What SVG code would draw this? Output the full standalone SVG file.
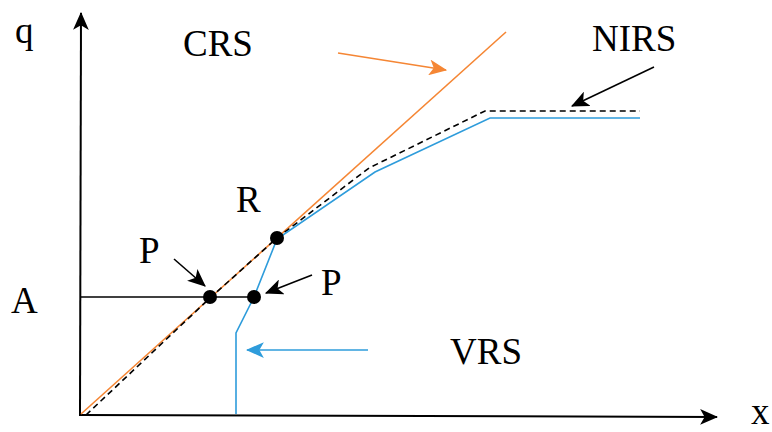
<svg xmlns="http://www.w3.org/2000/svg" width="772" height="432" viewBox="0 0 772 432">
<style>
.ax{stroke:#000;stroke-width:2;fill:none}
.or{stroke:#F58634;stroke-width:1.6;fill:none}
.bl{stroke:#2E9CDB;stroke-width:1.6;fill:none}
.da{stroke:#000;stroke-width:1.6;fill:none;stroke-dasharray:6 4}
.pt{fill:#000}
</style>
<defs>
<marker id="ab" viewBox="0 0 16 14" refX="15" refY="7" markerWidth="18" markerHeight="16" markerUnits="userSpaceOnUse" orient="auto"><path d="M0,0 L16,7 L0,14 L4,7 z" fill="#000"/></marker>
<marker id="ao" viewBox="0 0 16 14" refX="15" refY="7" markerWidth="18" markerHeight="16" markerUnits="userSpaceOnUse" orient="auto"><path d="M0,0 L16,7 L0,14 L4,7 z" fill="#F58634"/></marker>
<marker id="ac" viewBox="0 0 16 14" refX="15" refY="7" markerWidth="18" markerHeight="16" markerUnits="userSpaceOnUse" orient="auto"><path d="M0,0 L16,7 L0,14 L4,7 z" fill="#2E9CDB"/></marker>
</defs>
<g id="axes">
<line class="ax" x1="80" y1="415" x2="81" y2="13" marker-end="url(#ab)"/>
<line class="ax" x1="79" y1="415" x2="717" y2="417" marker-end="url(#ab)"/>
<line x1="80" y1="297" x2="254" y2="297" stroke="#000" stroke-width="1.6"/>
</g>
<g id="curves">
<line class="or" x1="81" y1="414" x2="506" y2="32"/>
<polyline class="da" points="86,415 210,298 277,238 369,168 485,111 640,111"/>
<polyline class="bl" points="236,414 236,333 254,297 277,239 375,172 490,118 640,118"/>
</g>
<g id="points">
<circle class="pt" cx="210" cy="297" r="7"/>
<circle class="pt" cx="254" cy="297" r="7"/>
<circle class="pt" cx="277" cy="238" r="7"/>
</g>
<g id="connectors">
<line x1="338" y1="53" x2="446" y2="70" stroke="#F58634" stroke-width="1.6" marker-end="url(#ao)"/>
<line x1="654" y1="67" x2="572" y2="106" stroke="#000" stroke-width="1.6" marker-end="url(#ab)"/>
<line x1="174" y1="259" x2="205" y2="286" stroke="#000" stroke-width="1.6" marker-end="url(#ab)"/>
<line x1="312" y1="275" x2="266" y2="293" stroke="#000" stroke-width="1.6" marker-end="url(#ab)"/>
<line x1="368" y1="350" x2="247" y2="350" stroke="#2E9CDB" stroke-width="1.6" marker-end="url(#ac)"/>
</g>
<g id="labels">
<text x="15" y="43" font-family="Liberation Serif" font-size="37">q</text>
<text x="183" y="56" font-family="Liberation Serif" font-size="37">CRS</text>
<text x="592" y="51" font-family="Liberation Serif" font-size="37">NIRS</text>
<text x="236" y="212" font-family="Liberation Serif" font-size="37">R</text>
<text x="139" y="263" font-family="Liberation Serif" font-size="37">P</text>
<text x="321" y="295" font-family="Liberation Serif" font-size="37">P</text>
<text x="11" y="313" font-family="Liberation Serif" font-size="37">A</text>
<text x="450" y="364" font-family="Liberation Serif" font-size="37">VRS</text>
<text x="751" y="424" font-family="Liberation Serif" font-size="37">x</text>
</g>
</svg>
